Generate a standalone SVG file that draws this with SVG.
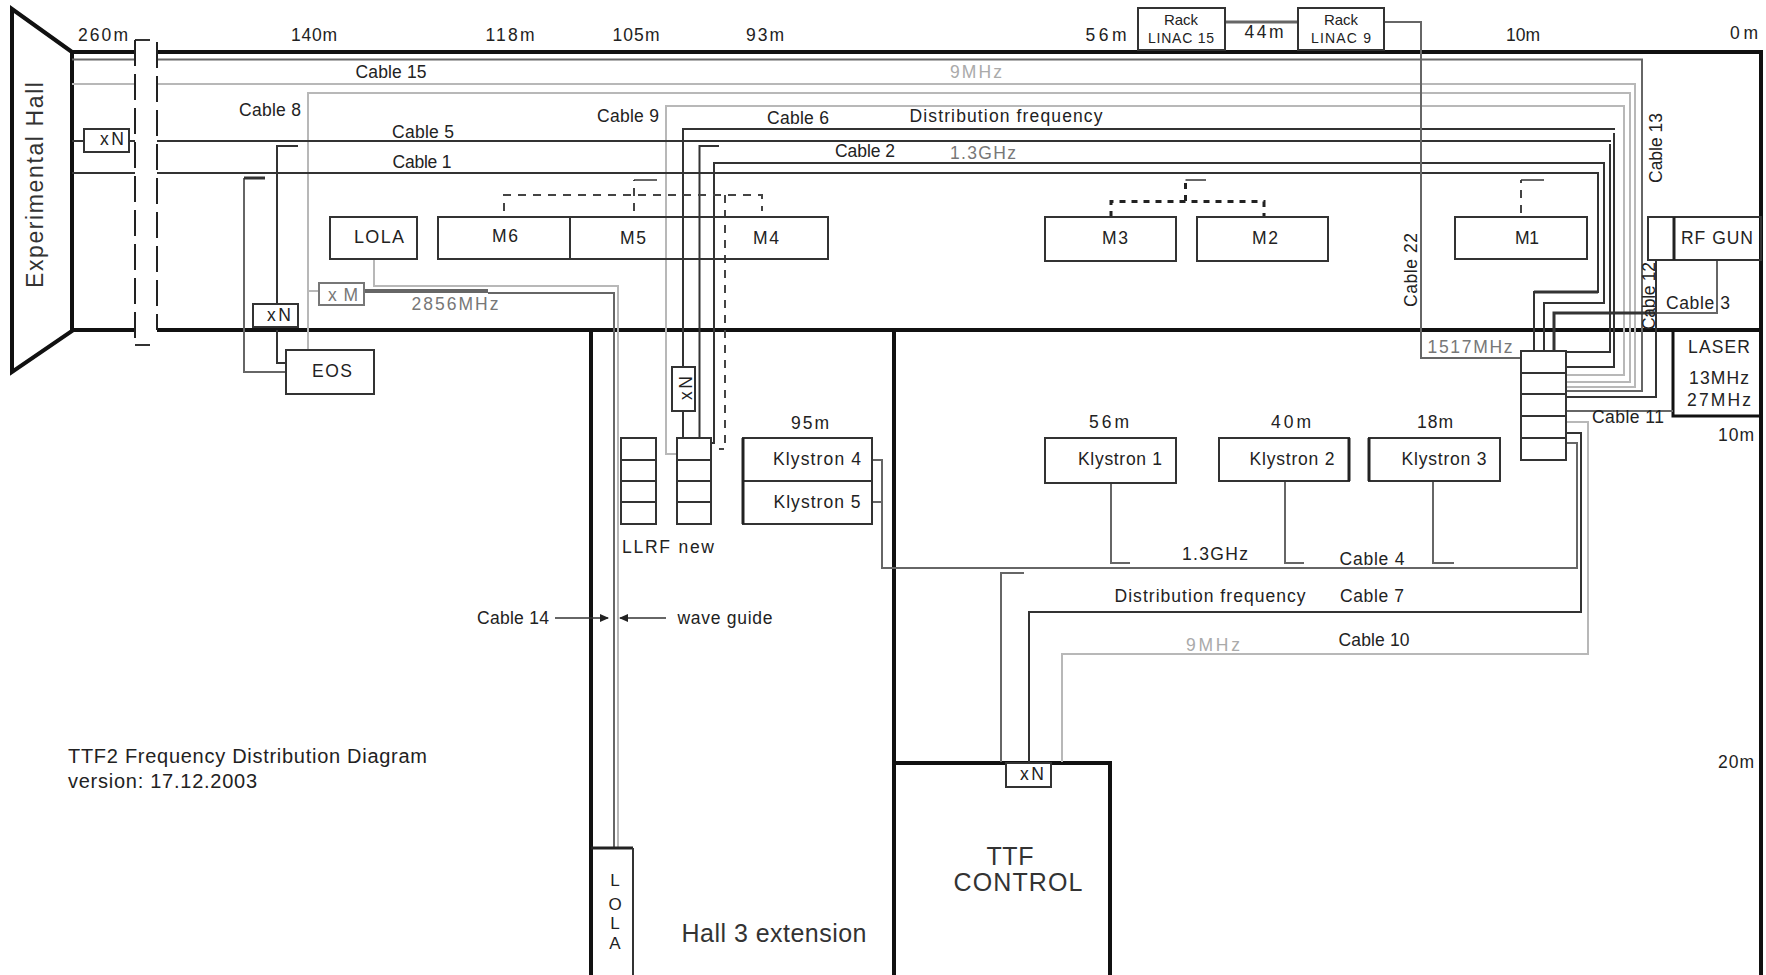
<svg xmlns="http://www.w3.org/2000/svg" width="1766" height="975" viewBox="0 0 1766 975">
<defs>
<marker id="ah" markerWidth="9" markerHeight="8" refX="8" refY="4" orient="auto" markerUnits="userSpaceOnUse"><path d="M0,0 L9,4 L0,8 Z" fill="#222"/></marker>
</defs>
<style>
text{font-family:"Liberation Sans",Arial,sans-serif;font-size:17.5px;fill:#222;text-anchor:middle}
.big{font-size:25px;fill:#333}
.lg{font-size:20px;text-anchor:start}
.sm{font-size:14px}
.g{fill:#777}
.lt{fill:#aaa}
.wall{fill:none;stroke:#111;stroke-width:4}
.box{fill:#fff;stroke:#333;stroke-width:2}
.bx{fill:none;stroke:#333;stroke-width:2}
.d{fill:none;stroke:#333;stroke-width:2}
.m{fill:none;stroke:#666;stroke-width:2}
.l{fill:none;stroke:#b8b8b8;stroke-width:2}
.dash{fill:none;stroke:#444;stroke-width:2;stroke-dasharray:8 7}
.dot{fill:none;stroke:#222;stroke-width:3;stroke-dasharray:6 6}
</style>
<rect width="1766" height="975" fill="#fff"/>
<g id="walls">
<path class="wall" d="M72,52 L12,9 V372 L72,331 Z"/>
<path class="wall" d="M72,52 H135 M157,52 H1761 V975 M72,330 H135 M157,330 H1761"/>
<path class="wall" d="M591,330 V975 M894,330 V975 M894,763 H1110 V975"/>
<path class="wall" style="stroke-width:3" d="M1673,330 V416 H1761"/>
</g>
<g id="connectors">
<path class="m" d="M72,59.5 H135 M157,59.5 H1642 V391 H1566"/>
<path class="l" d="M72,84 H135 M157,84 H1635 V387 H1566"/>
<path class="l" d="M308,350 V93 H1630 V382 H1566"/>
<path class="l" d="M677,454 H666 V106 H1624 V375 H1566"/>
<path class="d" d="M711,443 H714 V163 H1604 V303 H1544 V351"/>
<path class="d" d="M72,173 H135 M157,173 H1598 V292 H1534 V351"/>
<path class="d" style="stroke-width:3" d="M1598,292 H1534"/>
<path class="d" d="M683,367 V129 H1615 M1614,133 V367 H1566 M683,411 V438"/>
<path class="d" d="M72,141 H84 M129,141 H135 M157,141 H1611 M1610,144 V352 H1566"/>
<path class="m" d="M1225,22 H1298" style="stroke-width:3"/>
<path class="m" d="M1384,22 H1421 V358 H1521"/>
<path class="d" d="M719,146 H699.5 V438"/>
<path class="d" d="M298,146 H277 V304 M277,330 V363 H286"/>
<path class="m" d="M286,372 H244 V178"/>
<path class="d" style="stroke-width:3" d="M244,178 H265"/>
<path class="dash" d="M504,211 V195 H762 V211 M634,211 V180"/>
<path class="d" style="stroke-width:1.5" d="M634,180 H657"/>
<path class="dash" d="M725,195 V449 H719"/>
<path class="dot" d="M1111,217 V201.5 H1264 V217 M1185.5,201 V182"/>
<path class="d" style="stroke-width:1.5" d="M1185.5,180 H1206"/>
<path class="dash" d="M1521,213 V180"/>
<path class="d" style="stroke-width:1.5" d="M1521,180 H1544"/>
<path class="l" d="M374,259 V286 H618 V848"/>
<path class="l" d="M308,291 H319"/>
<path class="m" d="M364,291 H488 M488,293 H614 V848"/>
<path class="m" style="stroke-width:4" d="M364,291 H488"/>
<path class="m" d="M1717,260 V313 H1657"/>
<path class="d" style="stroke-width:3" d="M1657,313 H1554 V351"/>
<path class="d" d="M1656,260 V397 H1566"/>
<path class="m" d="M1566,411 H1673"/>
<path class="l" d="M1566,422 H1588 V654 H1062 V762"/>
<path class="d" d="M1566,433 H1581 V612 H1029 V762"/>
<path class="m" d="M1566,443 H1577 V568 H882 V460 H872 M872,502 H882"/>
<path class="m" d="M1111,483 V563 H1130 M1285,481 V563 H1304 M1433,481 V563 H1454 M1024,573 H1001 V762"/>
<path class="d" style="stroke-width:1.5" marker-end="url(#ah)" d="M555,618 H608"/>
<path class="d" style="stroke-width:1.5" marker-end="url(#ah)" d="M666,618 H620"/>
</g>
<g id="break" class="breakmark">
<path class="d" d="M135,40 H150 M135,345 H150"/>
<path fill="none" stroke="#222" stroke-width="2" stroke-dasharray="26 8" d="M135,40 V345 M157,42 V330"/>
</g>
<g id="hall"><text class="big" style="font-size:23px" transform="translate(43,185) rotate(-90)" textLength="206">Experimental Hall</text></g>
<g id="dist">
<text x="103" y="41" textLength="50">260m</text><text x="314" y="41" textLength="46">140m</text>
<text x="510" y="41" textLength="49">118m</text><text x="636" y="41" textLength="47">105m</text>
<text x="765" y="41" textLength="38">93m</text><text x="1106" y="41" textLength="41">56m</text>
<text x="1264" y="38" textLength="39">44m</text><text x="1523" y="41" textLength="34">10m</text>
<text x="1744" y="39" textLength="28">0m</text><text x="1736" y="441" textLength="36">10m</text>
<text x="1736" y="768" textLength="36">20m</text>
<text x="1109" y="428" textLength="40">56m</text><text x="1291" y="428" textLength="40">40m</text>
<text x="1435" y="428" textLength="36">18m</text><text x="810" y="429" textLength="38">95m</text>
</g>
<g id="labels">
<text x="391" y="78" textLength="71">Cable 15</text><text class="lt" x="976" y="78" textLength="52">9MHz</text>
<text x="270" y="116" textLength="62">Cable 8</text><text x="423" y="138" textLength="62">Cable 5</text>
<text x="422" y="168" textLength="59">Cable 1</text><text x="628" y="122" textLength="62">Cable 9</text>
<text x="798" y="124" textLength="62">Cable 6</text><text x="1006" y="122" textLength="193">Distribution frequency</text>
<text x="865" y="157" textLength="60">Cable 2</text><text class="g" x="983" y="159" textLength="66">1.3GHz</text>
<text transform="translate(1662,148) rotate(-90)" textLength="70">Cable 13</text>
<text transform="translate(1417,270) rotate(-90)" textLength="74">Cable 22</text>
<text transform="translate(1655,296) rotate(-90)" textLength="68">Cable 12</text>
<text x="1698" y="309" textLength="64">Cable 3</text>
<text class="g" x="455" y="310" textLength="87">2856MHz</text><text class="g" x="1470" y="353" textLength="85">1517MHz</text>
<text x="1628" y="423" textLength="72">Cable 11</text>
<text x="1215" y="560" textLength="66">1.3GHz</text><text x="1372" y="565" textLength="65">Cable 4</text>
<text x="1210" y="602" textLength="191">Distribution frequency</text><text x="1372" y="602" textLength="64">Cable 7</text>
<text class="lt" x="1213" y="651" textLength="54">9MHz</text><text x="1374" y="646" textLength="71">Cable 10</text>
<text x="513" y="624" textLength="72">Cable 14</text><text x="725" y="624" textLength="95">wave guide</text>
<text class="lg" x="68" y="763" textLength="359">TTF2 Frequency Distribution Diagram</text>
<text class="lg" x="68" y="788" textLength="189">version: 17.12.2003</text>
<text x="668" y="553" textLength="92">LLRF new</text>
</g>
<g id="rack15"><rect class="box" x="1138" y="8" width="87" height="42"/><text x="1181" y="25" textLength="34" style="font-size:15px">Rack</text><text class="sm" x="1181" y="43" textLength="66">LINAC 15</text></g>
<g id="rack9"><rect class="box" x="1298" y="8" width="86" height="42"/><text x="1341" y="25" textLength="34" style="font-size:15px">Rack</text><text class="sm" x="1341" y="43" textLength="60">LINAC 9</text></g>
<g id="xn1"><rect class="box" x="84" y="129" width="45" height="23"/><text x="112" y="145" textLength="24">xN</text></g>
<g id="xn2"><rect class="box" x="253" y="304" width="45" height="23"/><text x="279" y="321" textLength="24">xN</text></g>
<g id="xm"><rect class="box" x="319" y="283" width="45" height="22" style="stroke:#777"/><text class="g" x="343" y="301" textLength="30">xM</text></g>
<g id="xn3"><rect class="box" x="672" y="367" width="23" height="44"/><text transform="translate(692,388) rotate(-90)" textLength="24">xN</text></g>
<g id="xn4"><rect class="box" x="1006" y="763" width="45" height="24"/><text x="1032" y="780" textLength="24">xN</text></g>
<g id="lola1"><rect class="box" x="330" y="217" width="87" height="42"/><text x="379" y="243" textLength="50" style="font-size:18px">LOLA</text></g>
<g id="eos"><rect class="box" x="286" y="350" width="88" height="44"/><text x="332" y="377" textLength="40">EOS</text></g>
<g id="m654"><rect class="bx" x="438" y="217" width="390" height="42"/><path class="bx" d="M570,217 V259"/>
<text x="505" y="242" textLength="26">M6</text><text x="633" y="244" textLength="26">M5</text><text x="766" y="244" textLength="26">M4</text></g>
<g id="m3"><rect class="box" x="1045" y="217" width="131" height="44"/><text x="1115" y="244" textLength="26">M3</text></g>
<g id="m2"><rect class="box" x="1197" y="217" width="131" height="44"/><text x="1265" y="244" textLength="26">M2</text></g>
<g id="m1"><rect class="box" x="1455" y="217" width="132" height="42"/><text x="1527" y="244" textLength="24">M1</text></g>
<g id="rfgun"><rect class="box" x="1648" y="217" width="113" height="43" style="fill:none"/><path d="M1674,217 V260" stroke="#222" stroke-width="3"/><text x="1717" y="244" textLength="72">RF GUN</text></g>
<g id="laser"><text x="1719" y="353" textLength="62">LASER</text><text x="1719" y="384" textLength="60">13MHz</text><text x="1719" y="406" textLength="64">27MHz</text></g>
<g id="distbox"><rect class="box" x="1521" y="351" width="45" height="109"/><path class="bx" d="M1521,373 H1566 M1521,394 H1566 M1521,416 H1566 M1521,438 H1566"/></g>
<g id="llrf1"><rect class="box" x="621" y="438" width="35" height="86"/><path class="bx" d="M621,460 H656 M621,481 H656 M621,502 H656"/></g>
<g id="llrf2"><rect class="box" x="677" y="438" width="34" height="86"/><path class="bx" d="M677,460 H711 M677,481 H711 M677,502 H711"/></g>
<g id="k45"><rect class="box" x="743" y="438" width="129" height="86"/><path class="bx" d="M743,481 H872"/><path d="M743,438 V524" stroke="#222" stroke-width="3"/>
<text x="817" y="465" textLength="88">Klystron 4</text><text x="817" y="508" textLength="87">Klystron 5</text></g>
<g id="k1"><rect class="box" x="1045" y="438" width="131" height="45"/><text x="1120" y="465" textLength="84">Klystron 1</text></g>
<g id="k2"><rect class="box" x="1219" y="438" width="130" height="43"/><path d="M1349,438 V481" stroke="#222" stroke-width="3"/><text x="1292" y="465" textLength="85">Klystron 2</text></g>
<g id="k3"><rect class="box" x="1369" y="438" width="131" height="43"/><path d="M1369,438 V481" stroke="#222" stroke-width="3"/><text x="1444" y="465" textLength="85">Klystron 3</text></g>
<g id="lola2"><path d="M591,848 H633" stroke="#222" stroke-width="3"/><path class="bx" d="M633,848 V975"/>
<text x="615" y="886" style="font-size:17px">L</text><text x="615" y="910" style="font-size:17px">O</text><text x="615" y="929" style="font-size:17px">L</text><text x="615" y="949" style="font-size:17px">A</text></g>
<g id="hall3"><text class="big" x="774" y="942" textLength="185">Hall 3 extension</text></g>
<g id="ttfc"><text class="big" x="1010" y="865" textLength="47">TTF</text><text class="big" x="1018" y="891" textLength="129">CONTROL</text></g>
</svg>
